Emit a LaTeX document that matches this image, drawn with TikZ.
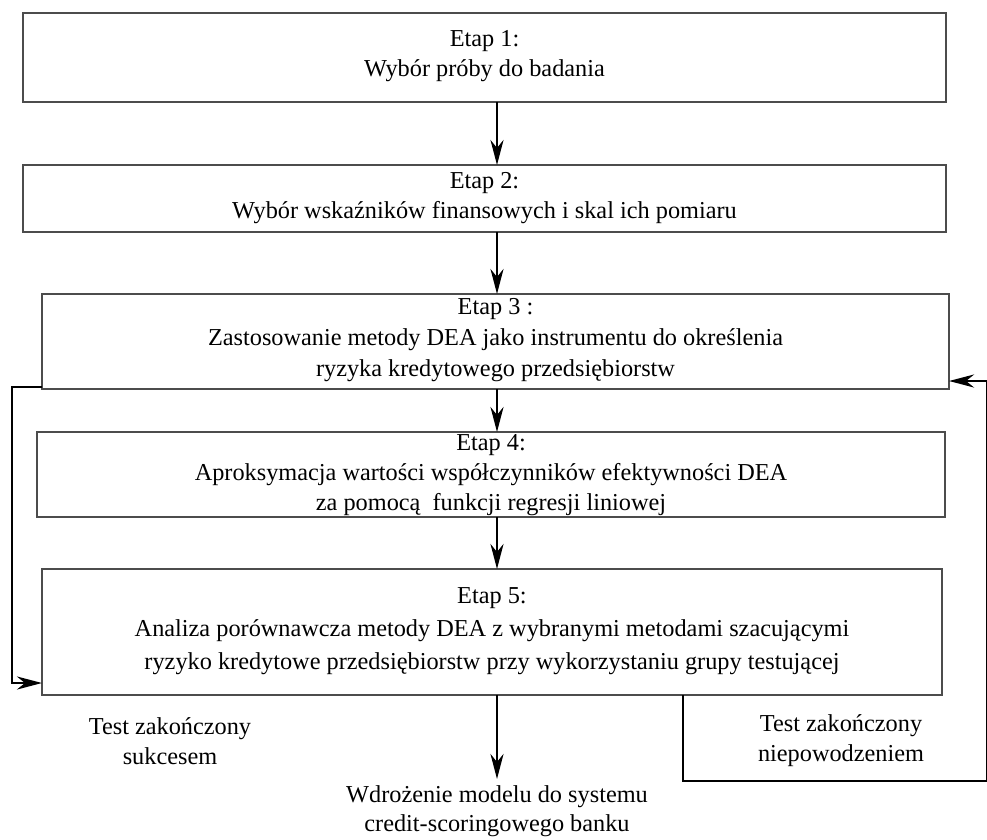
\documentclass[tikz,border=0pt]{standalone}
\usepackage{fontspec}
\setmainfont{Liberation Serif}
\usetikzlibrary{arrows.meta}
\begin{document}
\begin{tikzpicture}[x=1pt,y=-1pt,
  stagebox/.style={draw=black!70,line width=1.5pt,fill=white},
  lbl/.style={font=\fontsize{24.3}{30}\selectfont,align=center,inner sep=0pt},
  conn/.style={line width=2.8pt,-{Stealth[length=25pt,width=13pt,inset=8pt]}},
  connline/.style={line width=2.8pt}]
\useasboundingbox (0,0) rectangle (987,839);
% boxes
\draw[stagebox] (23,13) rectangle (946,102);
\node[lbl] (b1) at (484.5,56) {Etap 1:\\Wybór próby do badania};
\coordinate (b1s) at (497,102);
\draw[stagebox] (23,165) rectangle (946,232);
\node[lbl] (b2) at (484.5,198) {Etap 2:\\Wybór wskaźników finansowych i skal ich pomiaru};
\coordinate (b2n) at (497,165);
\coordinate (b2s) at (497,232);
\draw[stagebox] (42,294) rectangle (949,389);
\node[lbl,font=\fontsize{24.3}{31}\selectfont] (b3) at (495.5,340) {Etap 3 :\\Zastosowanie metody DEA jako instrumentu do określenia\\ryzyka kredytowego przedsiębiorstw};
\coordinate (b3n) at (497,294);
\coordinate (b3s) at (497,389);
\coordinate (b3l) at (42,387);
\coordinate (b3r) at (949,381);
\draw[stagebox] (37,432) rectangle (945,517);
\node[lbl] (b4) at (491,475) {Etap 4:\\Aproksymacja wartości współczynników efektywności DEA\\za pomocą\ \ funkcji regresji liniowej};
\coordinate (b4n) at (497,432);
\coordinate (b4s) at (497,517);
\draw[stagebox] (42,569) rectangle (942,695);
\node[lbl,font=\fontsize{24.3}{33}\selectfont] (b5) at (492,631) {Etap 5:\\Analiza porównawcza metody DEA z wybranymi metodami szacującymi\\ryzyko kredytowe przedsiębiorstw przy wykorzystaniu grupy testującej};
\coordinate (b5n) at (497,569);
\coordinate (b5s) at (497,695);
\coordinate (b5l) at (42,683);
\coordinate (b5sr) at (683,695);
% labels
\node[lbl] (ok) at (170,741) {Test zakończony\\sukcesem};
\node[lbl] (fail) at (841,741) {Test zakończony\\niepowodzeniem};
\node[lbl,font=\fontsize{24.3}{29}\selectfont] (impl) at (497,811) {Wdrożenie modelu do systemu\\credit-scoringowego banku};
\coordinate (implN) at (497,779);
% connectors
\draw[conn] (b1s) -- (b2n);
\draw[conn] (b2s) -- (b3n);
\draw[conn] (b3s) -- (b4n);
\draw[conn] (b4s) -- (b5n);
\draw[conn] (b5s) -- (implN);
\coordinate (lc1) at (12,387);
\coordinate (lc2) at (12,683);
\draw[conn] (b3l) -- (lc1) -- (lc2) -- (b5l);
\coordinate (rc1) at (683,781);
\coordinate (rc2) at (987,781);
\coordinate (rc3) at (987,381);
\draw[conn] (b5sr) -- (rc1) -- (rc2) -- (rc3) -- (b3r);
\end{tikzpicture}
\end{document}
